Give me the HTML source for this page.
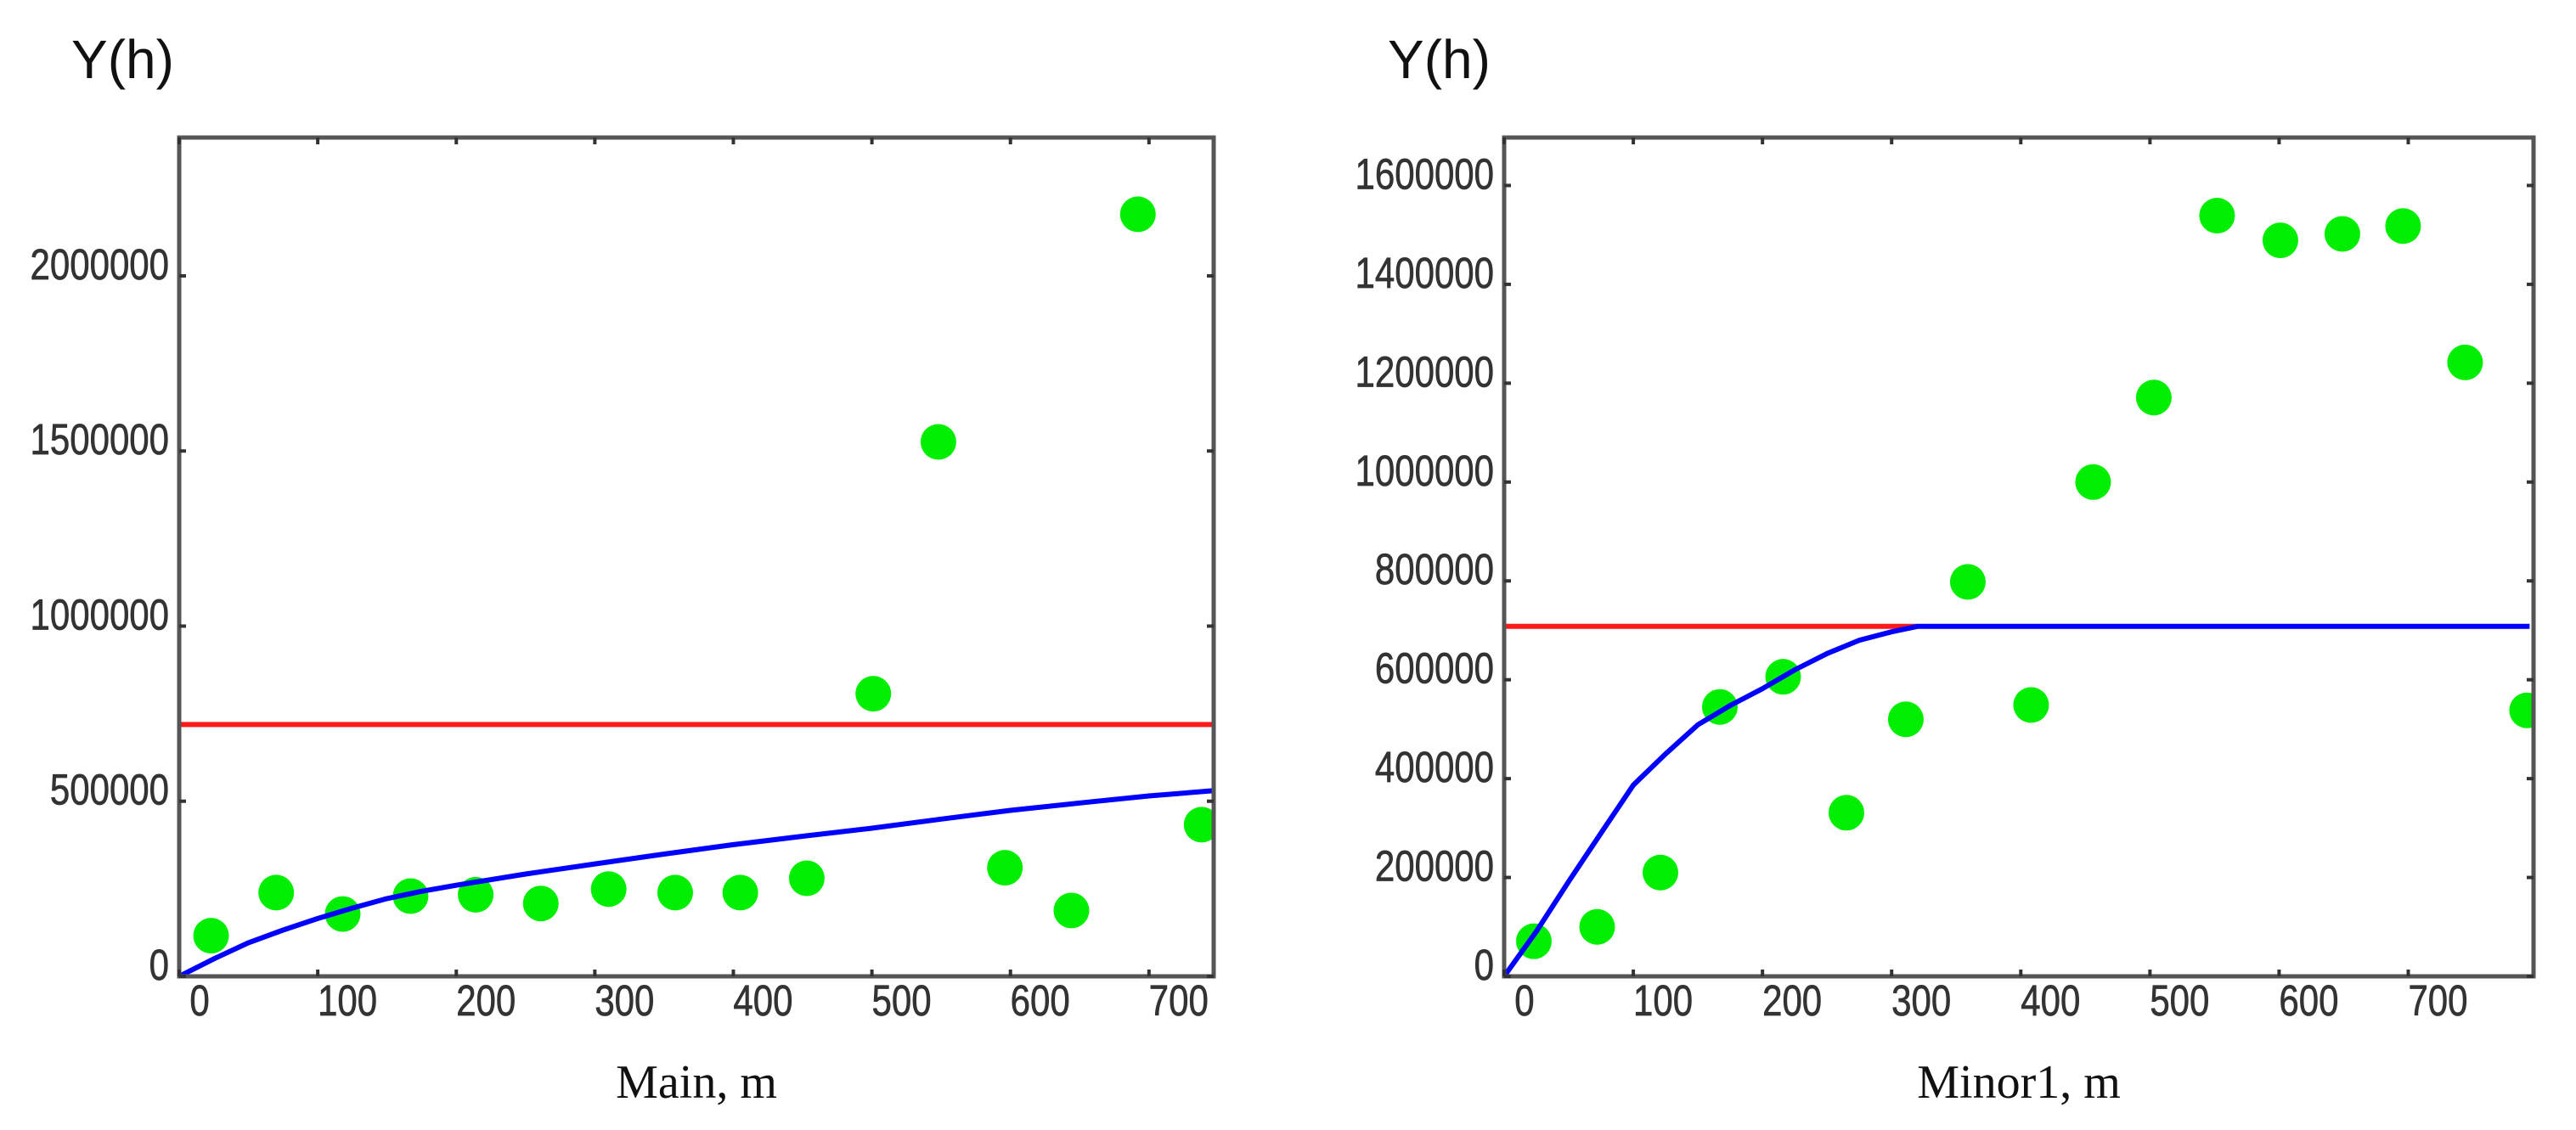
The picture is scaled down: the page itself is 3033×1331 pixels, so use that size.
<!DOCTYPE html>
<html><head><meta charset="utf-8"><style>
html,body{margin:0;padding:0;background:#fff;}
svg{display:block;}
.tick{font-family:"Liberation Sans",Arial,sans-serif;font-size:42px;fill:#333;stroke:#333;stroke-width:0.6px;}
.ttl{font-family:"Liberation Serif","Times New Roman",serif;font-size:56px;fill:#111;}
.yh{font-family:"Liberation Sans",Arial,sans-serif;font-size:64px;fill:#111;}
</style></head><body>
<svg id="chart" width="3033" height="1331" viewBox="0 0 3033 1331" xmlns="http://www.w3.org/2000/svg">
<g id="left"></g>
<g id="right"></g>
</svg>
<script>
// Left panel data (Main)
const mainXTicks = [0,100,200,300,400,500,600,700];
const mainYTicks = [0,500000,1000000,1500000,2000000];
const mainDotX = [23,70,118,167,214,261,310,358,405,453,501,548,596,644,692,738];
const mainDotY = [116000,239000,178000,229000,233000,208000,249000,239000,239000,280000,807000,1526000,310000,188000,2176000,433000];
const mainModelX = [0,25,50,75,100,125,150,175,200,250,300,350,400,450,500,550,600,650,700,746];
const mainModelY = [0,50000,96000,132000,165000,195000,222000,243000,260000,292000,321000,349000,376000,400000,423000,449000,474000,495000,515000,530000];
const mainSill = 719000;
// Right panel data (Minor1)
const minorXTicks = [0,100,200,300,400,500,600,700];
const minorYTicks = [0,200000,400000,600000,800000,1000000,1200000,1400000,1600000];
const minorDotX = [23,72,121,167,216,265,311,359,408,456,503,552,601,649,696,744,792];
const minorDotY = [71000,100000,210000,545000,606000,331000,520000,798000,549000,1000000,1171000,1539000,1489000,1502000,1518000,1242000,538000];
const minorModelX = [0,25,50,75,100,125,150,175,200,225,250,275,300,320,794];
const minorModelY = [0,91000,192000,290000,387000,450000,509000,548000,582000,620000,653000,680000,697000,708000,708000];
const minorSill = 708000;
const minorSillEnd = 320;

const NS="http://www.w3.org/2000/svg";
function mk(tag, attrs, parent){const e=document.createElementNS(NS,tag);for(const k in attrs)e.setAttribute(k,attrs[k]);parent.appendChild(e);return e;}

function panel(g, o){
  const sx=v=>o.L+(v-o.xmin)/(o.xmax-o.xmin)*(o.R-o.L);
  const sy=v=>o.B-(v-o.ymin)/(o.ymax-o.ymin)*(o.B-o.T);
  const clipId=o.id+'-clip';
  const defs=mk('defs',{},g);
  const cp=mk('clipPath',{id:clipId},defs);
  mk('rect',{x:o.L,y:o.T,width:o.R-o.L,height:o.B-o.T},cp);
  const plot=mk('g',{'clip-path':'url(#'+clipId+')'},g);
  
  
  const red=mk('line',{x1:sx(0),x2:sx(o.sillEnd),y1:sy(o.sill),y2:sy(o.sill),stroke:'#ff1a1a','stroke-width':6},plot);
  
  
  o.dx.forEach((x,i)=>{
    const c=mk('circle',{cx:sx(x),cy:sy(o.dy[i]),r:21,fill:'#00ee00'},plot);
    
    
  });
  const pts=o.mx.map((x,i)=>sx(x).toFixed(1)+','+sy(o.my[i]).toFixed(1)).join(' ');
  const bl=mk('polyline',{points:pts,fill:'none',stroke:'#0000ff','stroke-width':6,'stroke-linejoin':'round'},plot);
  
  
  const fr=mk('rect',{x:o.L,y:o.T,width:o.R-o.L,height:o.B-o.T,fill:'none',stroke:'#555','stroke-width':5},g);
  
  
  o.xt.forEach(v=>{
    const x=sx(v);
    mk('line',{x1:x,x2:x,y1:o.B,y2:o.B-8,stroke:'#333','stroke-width':4},g);
    mk('line',{x1:x,x2:x,y1:o.T,y2:o.T+8,stroke:'#333','stroke-width':4},g);
    const by=o.B+46;
    const t=mk('text',{x:x+(v===0?24:35),y:by,'text-anchor':'middle',class:'tick',transform:'translate(0,'+by+') scale(1,1.22) translate(0,'+(-by)+')'},g);
    t.textContent=v;
    
    
  });
  o.yt.forEach(v=>{
    const y=sy(v);
    mk('line',{x1:o.L,x2:o.L+8,y1:y,y2:y,stroke:'#333','stroke-width':4},g);
    mk('line',{x1:o.R,x2:o.R-8,y1:y,y2:y,stroke:'#333','stroke-width':4},g);
    const by=y+4;
    const t=mk('text',{x:o.L-12,y:by,'text-anchor':'end',class:'tick',transform:'translate(0,'+by+') scale(1,1.22) translate(0,'+(-by)+')'},g);
    t.textContent=v;
    
    
  });
  const yh=mk('text',{x:o.yhx,y:92,class:'yh'},g);
  yh.textContent='Y(h)';
  
  
  const xt=mk('text',{x:(o.L+o.R)/2,y:1293,'text-anchor':'middle',class:'ttl'},g);
  xt.textContent=o.title;
  
  
}

panel(document.getElementById('left'),{id:'l',L:211,R:1429,T:162,B:1150,xmin:0,xmax:746.7,ymin:0,ymax:2395000,
  xt:mainXTicks,yt:mainYTicks,dx:mainDotX,dy:mainDotY,mx:mainModelX,my:mainModelY,sill:mainSill,sillEnd:800,title:'Main, m',yhx:84});
panel(document.getElementById('right'),{id:'r',L:1771,R:2983,T:162,B:1150,xmin:0,xmax:797,ymin:0,ymax:1697000,
  xt:minorXTicks,yt:minorYTicks,dx:minorDotX,dy:minorDotY,mx:minorModelX,my:minorModelY,sill:minorSill,sillEnd:minorSillEnd,title:'Minor1, m',yhx:1634});
</script>
</body></html>
